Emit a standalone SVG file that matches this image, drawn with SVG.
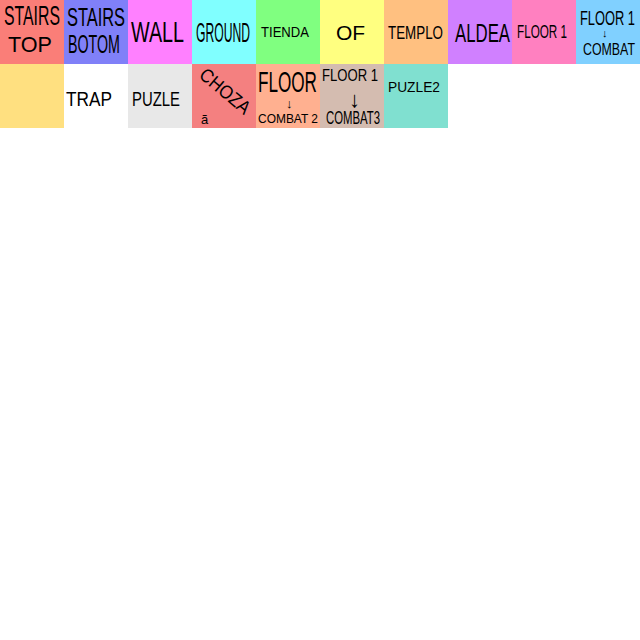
<svg xmlns="http://www.w3.org/2000/svg" width="640" height="640" viewBox="0 0 640 640">
<style>
text{font-family:"Liberation Sans","DejaVu Sans",sans-serif;fill:#000;font-weight:normal}
</style>
<rect width="640" height="640" fill="#fff"/>
<g id="stairs-top"><rect x="0" y="0" width="64" height="64" fill="#fa7e78"/><text x="4" y="25" font-size="27" textLength="56" lengthAdjust="spacingAndGlyphs">STAIRS</text><text x="8" y="52" font-size="22" textLength="44" lengthAdjust="spacingAndGlyphs">TOP</text></g>
<g id="stairs-botom"><rect x="64" y="0" width="64" height="64" fill="#8080f8"/><text x="67" y="26" font-size="26" textLength="58" lengthAdjust="spacingAndGlyphs">STAIRS</text><text x="68" y="53" font-size="25" textLength="52" lengthAdjust="spacingAndGlyphs">BOTOM</text></g>
<g id="wall"><rect x="128" y="0" width="64" height="64" fill="#ff80ff"/><text x="131" y="42" font-size="29" textLength="53" lengthAdjust="spacingAndGlyphs">WALL</text></g>
<g id="ground"><rect x="192" y="0" width="64" height="64" fill="#80ffff"/><text x="196" y="42" font-size="27" textLength="54" lengthAdjust="spacingAndGlyphs">GROUND</text></g>
<g id="tienda"><rect x="256" y="0" width="64" height="64" fill="#80ff80"/><text x="261" y="37" font-size="15" textLength="48" lengthAdjust="spacingAndGlyphs">TIENDA</text></g>
<g id="of"><rect x="320" y="0" width="64" height="64" fill="#ffff80"/><text x="336" y="40" font-size="21" textLength="29" lengthAdjust="spacing">OF</text></g>
<g id="templo"><rect x="384" y="0" width="64" height="64" fill="#ffc080"/><text x="388" y="39" font-size="19" textLength="55" lengthAdjust="spacingAndGlyphs">TEMPLO</text></g>
<g id="aldea"><rect x="448" y="0" width="64" height="64" fill="#d080ff"/><text x="455" y="42" font-size="25" textLength="55" lengthAdjust="spacingAndGlyphs">ALDEA</text></g>
<g id="floor1"><rect x="512" y="0" width="64" height="64" fill="#ff80c0"/><text x="517" y="38" font-size="19" textLength="50" lengthAdjust="spacingAndGlyphs">FLOOR 1</text></g>
<g id="floor1-combat"><rect x="576" y="0" width="64" height="64" fill="#80d0ff"/><text x="580" y="25" font-size="21" textLength="55" lengthAdjust="spacingAndGlyphs">FLOOR 1</text><text x="602" y="37" font-size="11">↓</text><text x="583" y="55" font-size="16" textLength="52" lengthAdjust="spacingAndGlyphs">COMBAT</text></g>
<g id="blank"><rect x="0" y="64" width="64" height="64" fill="#ffe080"/></g>
<g id="trap"><rect x="64" y="64" width="64" height="64" fill="#fff"/><text x="66" y="106" font-size="21" textLength="46" lengthAdjust="spacingAndGlyphs">TRAP</text></g>
<g id="puzle"><rect x="128" y="64" width="64" height="64" fill="#e8e8e8"/><text x="132" y="106" font-size="21" textLength="48" lengthAdjust="spacingAndGlyphs">PUZLE</text></g>
<g id="choza"><rect x="192" y="64" width="64" height="64" fill="#f48080"/><text x="0" y="0" font-size="19" text-anchor="middle" textLength="60" lengthAdjust="spacingAndGlyphs" transform="translate(221,96) rotate(40)">CHOZA</text><text x="201" y="124" font-size="13">ã</text></g>
<g id="floor-combat2"><rect x="256" y="64" width="64" height="64" fill="#ffb090"/><text x="258" y="92" font-size="30" textLength="59" lengthAdjust="spacingAndGlyphs">FLOOR</text><text x="286" y="108" font-size="13">↓</text><text x="258" y="123" font-size="13" textLength="60" lengthAdjust="spacingAndGlyphs">COMBAT 2</text></g>
<g id="floor1-combat3"><rect x="320" y="64" width="64" height="64" fill="#d4bcb0"/><text x="322" y="81" font-size="17" textLength="56" lengthAdjust="spacingAndGlyphs">FLOOR 1</text><text x="349" y="107" font-size="22">↓</text><text x="326" y="124" font-size="18" textLength="54" lengthAdjust="spacingAndGlyphs">COMBAT3</text></g>
<g id="puzle2"><rect x="384" y="64" width="64" height="64" fill="#80e0d0"/><text x="388" y="92" font-size="15" textLength="52" lengthAdjust="spacingAndGlyphs">PUZLE2</text></g>
<g id="connectors"></g>
</svg>
